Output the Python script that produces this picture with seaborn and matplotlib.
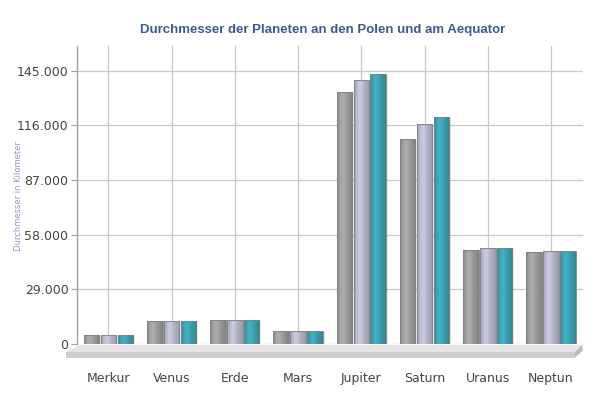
import numpy as np
import pandas as pd
import seaborn as sns
import matplotlib.pyplot as plt
from matplotlib.colors import to_rgb
from matplotlib.patches import Polygon
from matplotlib.ticker import FuncFormatter

## data ##
planeten = ['Merkur', 'Venus', 'Erde', 'Mars', 'Jupiter', 'Saturn', 'Uranus', 'Neptun']
pol = [4879, 12104, 12714, 6752, 133708, 108728, 49946, 48682]
mittel = [4879, 12104, 12742, 6779, 139822, 116464, 50724, 49244]
aequator = [4879, 12104, 12756, 6792, 142984, 120536, 51118, 49528]
serien = ['Pol', 'Mittel', 'Aequator']
farben = ['#999999', '#b2b2c6', '#3a9cab']
y_ticks = [0, 29000, 58000, 87000, 116000, 145000]

df = pd.DataFrame({'planet': planeten * 3,
                   'serie': np.repeat(serien, len(planeten)),
                   'km': pol + mittel + aequator})

sns.set_style('white')
fig = plt.figure(figsize=(6, 4), dpi=100)
ax = fig.add_axes([0.128, 0.14, 0.843, 0.745])

sns.barplot(data=df, x='planet', y='km', hue='serie', palette=farben,
            width=0.8, gap=0.08, legend=False, ax=ax, zorder=3)

ax.set_xlim(-0.5, 7.5)
ax.set_ylim(0, 158000)


def shade(base, n=64):
    # horizontal gradient: darker edges, soft light stripe left of centre
    r, g, b = to_rgb(base)
    t = np.linspace(0, 1, n)
    f = 1.0 + 0.13 * np.exp(-((t - 0.35) / 0.22) ** 2) - 0.15 * (np.abs(t - 0.45) / 0.55) ** 2
    row = np.clip(np.stack([r * f, g * f, b * f], axis=1), 0, 1)
    return row[np.newaxis, :, :]


# gradient fill for every bar, taken from the bar patches themselves
for i, bar in enumerate(list(ax.patches)):
    x, w, h = bar.get_x(), bar.get_width(), bar.get_height()
    base = farben[i // len(planeten)]
    bar.set_facecolor('none')
    bar.set_edgecolor('#808080')
    bar.set_linewidth(0.6)
    im = ax.imshow(shade(base), extent=[x, x + w, 0, h], aspect='auto',
                   zorder=2.5, interpolation='bilinear')
    im.set_clip_path(bar)
    # small drop shadow
    ax.bar(x + w / 2 + 0.03, h, width=w, bottom=-600, color='#000000',
           alpha=0.10, zorder=2.2, linewidth=0)

ax.set_xlim(-0.5, 7.5)
ax.set_ylim(0, 158000)

# 3d floor under the bars
tr = ax.transAxes
ax.add_patch(Polygon([(0.006, -0.003), (1.0, -0.003), (0.984, -0.027), (-0.022, -0.027)],
                     closed=True, transform=tr, facecolor='#e4e4e4', edgecolor='none',
                     clip_on=False, zorder=1))
ax.add_patch(Polygon([(-0.022, -0.027), (0.984, -0.027), (0.984, -0.047), (-0.022, -0.047)],
                     closed=True, transform=tr, facecolor='#cccccc', edgecolor='none',
                     clip_on=False, zorder=1))
ax.add_patch(Polygon([(0.984, -0.027), (1.0, -0.003), (1.0, -0.023), (0.984, -0.047)],
                     closed=True, transform=tr, facecolor='#bababa', edgecolor='none',
                     clip_on=False, zorder=1))

# grid and axes
ax.set_yticks(y_ticks)
ax.yaxis.set_major_formatter(FuncFormatter(lambda v, p: f'{int(v):,}'.replace(',', '.')))
ax.grid(True, color='#c8c8c8', linewidth=0.9, zorder=0)
ax.set_axisbelow(True)
for s in ['top', 'right', 'bottom']:
    ax.spines[s].set_visible(False)
ax.spines['left'].set_color('#a0a0a0')
ax.spines['left'].set_linewidth(1.0)
ax.tick_params(axis='y', length=4, width=0.8, color='#a0a0a0', labelsize=9,
               labelcolor='#444444', pad=2, left=True)
ax.tick_params(axis='x', length=0, pad=20, labelsize=9, labelcolor='#444444')
ax.set_xlabel('')
ax.set_ylabel('')

fig.text(0.537, 0.924, 'Durchmesser der Planeten an den Polen und am Aequator',
         ha='center', va='center', fontsize=9.5, fontweight='bold', color='#3d5b8f',
         family='Liberation Sans')
fig.text(0.031, 0.51, 'Durchmesser in Kilometer', rotation=90, ha='center',
         va='center', fontsize=6, color='#8a9cc4')

fig.savefig('out.png', dpi=100)
